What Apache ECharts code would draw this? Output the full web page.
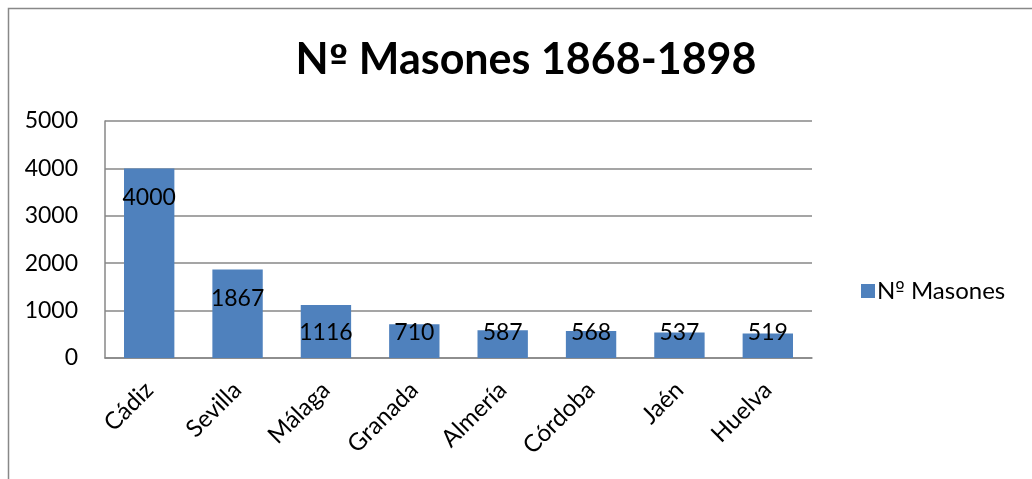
<!DOCTYPE html>
<html>
<head>
<meta charset="utf-8">
<script src="https://cdn.jsdelivr.net/npm/echarts@6/dist/echarts.min.js"></script>
<style>
html,body{margin:0;padding:0;background:#fff;}
#main{width:1032px;height:479px;}
</style>
</head>
<body>
<div id="main"></div>
<script>
const titleText = 'Nº Masones 1868-1898';
const seriesName = 'Nº Masones';
const categories = ['Cádiz','Sevilla','Málaga','Granada','Almería','Córdoba','Jaén','Huelva'];
const values = [4000, 1867, 1116, 710, 587, 568, 537, 519];
const yTicks = [0, 1000, 2000, 3000, 4000, 5000];

const FONT = 'Lato';
const ORD_FONT = 'DejaVu Sans';
const chart = echarts.init(document.getElementById('main'), null, {renderer:'canvas'});

// render the ordinal indicator "º" with a font that underlines it (like Calibri)
function richOrd(s) {
  return s.split('º').join('{o|º}');
}

const data = values.map(v => ({
  value: v,
  label: v >= 1200
    ? {position: 'insideTop', distance: 18}
    : {position: 'insideBottom', distance: 14}
}));

chart.setOption({
  backgroundColor: '#fff',
  animation: false,
  textStyle: {fontFamily: FONT},
  title: {
    text: richOrd(titleText),
    left: 521, top: 34, textAlign: 'center',
    textStyle: {
      fontFamily: FONT, fontWeight: 'bold', fontSize: 43, color: '#000',
      rich: {o: {fontFamily: ORD_FONT, fontWeight: 'bold', fontSize: 35, color: '#000'}}
    }
  },
  graphic: [{
    type: 'rect', shape: {x: 8.5, y: 8.5, width: 1100, height: 600},
    style: {fill: 'none', stroke: '#888', lineWidth: 1.5}, silent: true
  }],
  legend: {
    data: [seriesName],
    left: 856, top: 274,
    itemWidth: 14, itemHeight: 14, itemGap: 7,
    icon: 'rect',
    formatter: name => richOrd(name),
    textStyle: {
      fontFamily: FONT, fontSize: 24, color: '#000', padding: [0,0,0,-3],
      rich: {o: {fontFamily: ORD_FONT, fontSize: 20, color: '#000'}}
    }
  },
  grid: {left: 105, right: 220, top: 121, bottom: 121, containLabel: false},
  xAxis: {
    type: 'category',
    data: categories,
    axisLine: {show: true, lineStyle: {color: '#878787', width: 1.5}},
    axisTick: {show: false},
    axisLabel: {rotate: 45, margin: 28, fontFamily: FONT, fontSize: 24, color: '#000', interval: 0}
  },
  yAxis: {
    type: 'value',
    min: yTicks[0], max: yTicks[yTicks.length-1], interval: 1000,
    axisLine: {show: true, lineStyle: {color: '#878787', width: 1.5}},
    axisTick: {show: false},
    splitLine: {show: true, lineStyle: {color: '#878787', width: 1.5}},
    axisLabel: {margin: 27, fontFamily: FONT, fontSize: 23, color: '#000', formatter: v => String(v)}
  },
  series: [{
    name: seriesName,
    type: 'bar',
    data: data,
    barCategoryGap: '43%',
    itemStyle: {color: '#4F81BD'},
    label: {show: true, fontFamily: FONT, fontSize: 23, color: '#000'}
  }]
});
</script>
</body>
</html>
